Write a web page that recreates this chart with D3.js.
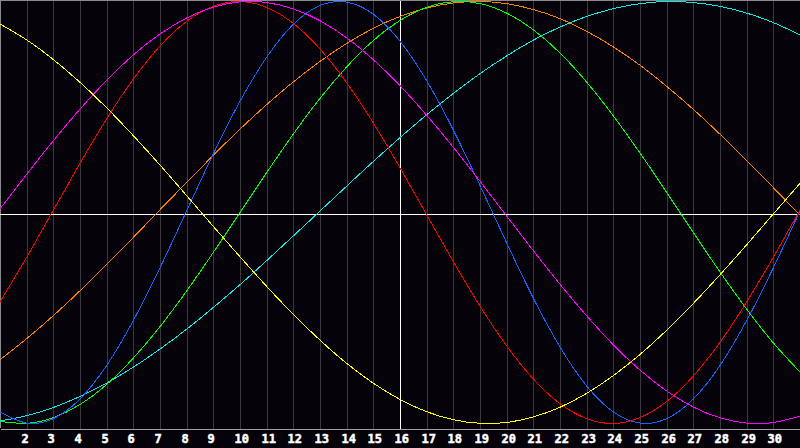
<!DOCTYPE html>
<html>
<head>
<meta charset="utf-8">
<script src="https://cdn.jsdelivr.net/npm/d3@7"></script>
<style>
  html, body { margin: 0; padding: 0; background: #050309; }
  svg { display: block; }
</style>
</head>
<body>
<svg id="chart" width="800" height="448"></svg>
<script>
// Days of the month shown (1..31)
const days = [1,2,3,4,5,6,7,8,9,10,11,12,13,14,15,16,17,18,19,20,21,22,23,24,25,26,27,28,29,30,31];
// Tick labels along the bottom
const tickDays = [2,3,4,5,6,7,8,9,10,11,12,13,14,15,16,17,18,19,20,21,22,23,24,25,26,27,28,29,30];
const todayDay = 16;

// Series values (-1..1), read per day from the picture
const cyanValues = [-0.988,-0.963,-0.924,-0.872,-0.808,-0.733,-0.647,-0.553,-0.450,-0.342,-0.228,-0.111,0.007,0.125,0.242,0.355,0.463,0.564,0.658,0.742,0.817,0.879,0.929,0.966,0.990,1.000,0.995,0.977,0.945,0.900,0.842];
const orangeValues = [-0.698,-0.598,-0.489,-0.371,-0.246,-0.118,0.013,0.143,0.271,0.395,0.511,0.619,0.716,0.801,0.873,0.929,0.969,0.993,1.000,0.990,0.962,0.919,0.859,0.785,0.698,0.598,0.489,0.371,0.246,0.118,-0.013];
const greenValues = [-0.990,-0.999,-0.972,-0.910,-0.815,-0.690,-0.541,-0.372,-0.189,0.000,0.189,0.372,0.541,0.690,0.815,0.910,0.972,0.999,0.990,0.945,0.866,0.756,0.618,0.458,0.282,0.095,-0.095,-0.282,-0.458,-0.618,-0.756];
const blueValues = [-0.945,-0.998,-0.977,-0.884,-0.725,-0.512,-0.262,0.008,0.278,0.527,0.736,0.892,0.981,0.997,0.940,0.812,0.625,0.391,0.128,-0.144,-0.406,-0.637,-0.822,-0.945,-0.998,-0.977,-0.884,-0.725,-0.512,-0.262,0.008];
const redValues = [-0.424,-0.212,0.011,0.233,0.444,0.632,0.789,0.906,0.977,1.000,0.972,0.896,0.775,0.615,0.424,0.212,-0.011,-0.233,-0.444,-0.632,-0.789,-0.906,-0.977,-1.000,-0.972,-0.896,-0.775,-0.615,-0.424,-0.212,0.011];
const magentaValues = [0.017,0.181,0.340,0.490,0.627,0.747,0.846,0.922,0.973,0.998,0.995,0.965,0.909,0.828,0.724,0.601,0.461,0.309,0.148,-0.017,-0.181,-0.340,-0.490,-0.627,-0.747,-0.846,-0.922,-0.973,-0.998,-0.995,-0.965];
const yellowValues = [0.893,0.818,0.725,0.617,0.496,0.364,0.225,0.080,-0.066,-0.210,-0.350,-0.483,-0.605,-0.715,-0.809,-0.886,-0.944,-0.982,-0.999,-0.995,-0.969,-0.923,-0.857,-0.773,-0.673,-0.558,-0.431,-0.295,-0.153,-0.007,0.138];

const seriesNames = ["cyan","orange","green","blue","red","magenta","yellow"];
const seriesValues = [cyanValues, orangeValues, greenValues, blueValues, redValues, magentaValues, yellowValues];
const seriesColors = ["#10e8e8","#ff8000","#00ff00","#1464ff","#ff0000","#ff00ff","#ffff00"];

const W = 800, H = 448, plotBottom = 428;
const svg = d3.select("#chart");

const x = d3.scaleLinear().domain([1, 31]).range([0, W]);
const y = d3.scaleLinear().domain([-1, 1]).range([423.5, 1.5]);

svg.append("rect").attr("x", 0).attr("y", 0).attr("width", W).attr("height", H).attr("fill", "#050309");

// Grid + labels via axis
const axis = d3.axisBottom(x)
  .tickValues(tickDays)
  .tickSize(-plotBottom)
  .tickSizeOuter(0)
  .tickPadding(0)
  .tickFormat(d => String(d));

const gAxis = svg.append("g")
  .attr("transform", `translate(0,${plotBottom + 0.5})`)
  .call(axis);

gAxis.select(".domain")
  .attr("stroke", "#a0a0a0")
  .attr("stroke-width", 1)
  .attr("shape-rendering", "crispEdges");

gAxis.selectAll(".tick").attr("transform", d => `translate(${Math.round(x(d)) + 0.5},0)`);
gAxis.selectAll(".tick line")
  .attr("stroke", d => d === todayDay ? "#ffffff" : "#3a3a3a")
  .attr("stroke-width", 1)
  .attr("shape-rendering", "crispEdges");
gAxis.selectAll(".tick text")
  .attr("fill", "#ffffff")
  .attr("stroke", "#ffffff")
  .attr("stroke-width", 0.5)
  .attr("text-anchor", "start")
  .attr("dx", -6)
  .attr("dy", 0)
  .attr("y", 14.5)
  .style("font-family", "'DejaVu Sans Mono', monospace")
  .style("font-weight", "bold")
  .style("font-size", "12px");

// frame: top and left
svg.append("line").attr("x1", 0).attr("x2", W).attr("y1", 0.5).attr("y2", 0.5)
  .attr("stroke", "#8a8a8a").attr("shape-rendering", "crispEdges");
svg.append("line").attr("x1", 0.5).attr("x2", 0.5).attr("y1", 0).attr("y2", plotBottom)
  .attr("stroke", "#8a8a8a").attr("shape-rendering", "crispEdges");

// zero line
svg.append("line").attr("x1", 0).attr("x2", W)
  .attr("y1", 214.5).attr("y2", 214.5)
  .attr("stroke", "#ffffff").attr("shape-rendering", "crispEdges");

// curves
const line = d3.line()
  .x((d, i) => x(days[i]))
  .y(d => y(d))
  .curve(d3.curveNatural);

svg.append("g").selectAll("path")
  .data(seriesValues)
  .join("path")
  .attr("class", (d, i) => "series " + seriesNames[i])
  .attr("d", d => line(d))
  .attr("fill", "none")
  .attr("stroke", (d, i) => seriesColors[i])
  .attr("stroke-width", 1)
  .attr("shape-rendering", "crispEdges");
</script>
</body>
</html>
